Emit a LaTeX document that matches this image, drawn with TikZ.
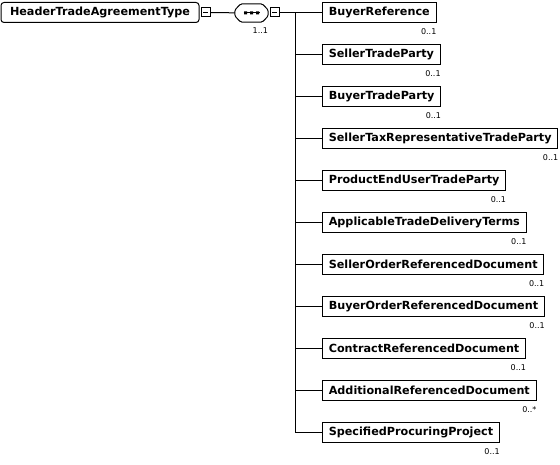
\documentclass[tikz,border=0pt]{standalone}
\usepackage{fontspec}
\setmainfont{DejaVu Sans}
\usetikzlibrary{positioning}

\tikzset{
  elem/.style={draw,line width=1pt,minimum height=20pt,inner xsep=6.3pt,inner ysep=0pt,
    font=\fontsize{11.2}{13}\selectfont\bfseries},
  ctype/.style={elem,rounded corners=3pt,minimum width=198pt},
  card/.style={inner sep=0pt,font=\fontsize{8}{9}\selectfont,anchor=north east,yshift=-5.5pt},
  minus/.style={draw,line width=1pt,minimum size=9pt,inner sep=0pt,
    path picture={\draw[line width=1pt] ([xshift=2pt]path picture bounding box.west)
      -- ([xshift=-2pt]path picture bounding box.east);}},
  seqbox/.style={minimum width=33pt,minimum height=18pt,inner sep=0pt},
  wire/.style={line width=1pt}
}

\begin{document}
\begin{tikzpicture}[x=1pt,y=-1pt,node distance=42pt]
  \useasboundingbox (0,0) rectangle (560,465);
  \node[ctype] (hta) at (100,12.5) {HeaderTradeAgreementType};
  \node[minus] (hta-m) at (205.5,12.5) {};
  \node[seqbox] (seq) at (251.5,13) {};
  \node[minus] (seq-m) at (274.5,12.5) {};
  \node[card] (seq-c) at (seq.south east) {1..1};
  \coordinate (trunk) at (295.5,12.5);

  \node[elem,anchor=west] (br) at (322,12.5) {BuyerReference};
  \node[elem,below=of br.west,anchor=west] (stp) {SellerTradeParty};
  \node[elem,below=of stp.west,anchor=west] (btp) {BuyerTradeParty};
  \node[elem,below=of btp.west,anchor=west] (strtp) {SellerTaxRepresentativeTradeParty};
  \node[elem,below=of strtp.west,anchor=west] (peutp) {ProductEndUserTradeParty};
  \node[elem,below=of peutp.west,anchor=west] (atdt) {ApplicableTradeDeliveryTerms};
  \node[elem,below=of atdt.west,anchor=west] (sord) {SellerOrderReferencedDocument};
  \node[elem,below=of sord.west,anchor=west] (bord) {BuyerOrderReferencedDocument};
  \node[elem,below=of bord.west,anchor=west] (crd) {ContractReferencedDocument};
  \node[elem,below=of crd.west,anchor=west] (ard) {AdditionalReferencedDocument};
  \node[elem,below=of ard.west,anchor=west] (spp) {SpecifiedProcuringProject};

  % cardinalities
  \node[card] (br-c) at (br.south east) {0..1};
  \node[card] (stp-c) at (stp.south east) {0..1};
  \node[card] (btp-c) at (btp.south east) {0..1};
  \node[card] (strtp-c) at (strtp.south east) {0..1};
  \node[card] (peutp-c) at (peutp.south east) {0..1};
  \node[card] (atdt-c) at (atdt.south east) {0..1};
  \node[card] (sord-c) at (sord.south east) {0..1};
  \node[card] (bord-c) at (bord.south east) {0..1};
  \node[card] (crd-c) at (crd.south east) {0..1};
  \node[card] (ard-c) at (ard.south east) {0..*};
  \node[card] (spp-c) at (spp.south east) {0..1};

  % sequence compositor
  \draw[wire,rounded corners=1.5pt]
    ([xshift=6pt]seq.north west) -- ([xshift=-6pt]seq.north east)
    -- ([yshift=3pt]seq.east) -- ([yshift=-3pt]seq.east)
    -- ([xshift=-6pt]seq.south east) -- ([xshift=6pt]seq.south west)
    -- ([yshift=-3pt]seq.west) -- ([yshift=3pt]seq.west) -- cycle;
  \draw[wire] ([xshift=-8pt]seq.center) -- ([xshift=8pt]seq.center);
  \fill ([xshift=-7.5pt,yshift=-1.5pt]seq.center) rectangle +(3,-3)
        ([xshift=-1.5pt,yshift=-1.5pt]seq.center) rectangle +(3,-3)
        ([xshift=4.5pt,yshift=-1.5pt]seq.center) rectangle +(3,-3);

  \draw[wire] (hta-m) -- (seq);
  \draw[wire] (seq-m) -- (br);
  \draw[wire] (trunk) |- (spp.west);
  \path[draw,wire]
    (trunk |- stp.west) edge (stp.west)
    (trunk |- btp.west) edge (btp.west)
    (trunk |- strtp.west) edge (strtp.west)
    (trunk |- peutp.west) edge (peutp.west)
    (trunk |- atdt.west) edge (atdt.west)
    (trunk |- sord.west) edge (sord.west)
    (trunk |- bord.west) edge (bord.west)
    (trunk |- crd.west) edge (crd.west)
    (trunk |- ard.west) edge (ard.west);
\end{tikzpicture}
\end{document}
